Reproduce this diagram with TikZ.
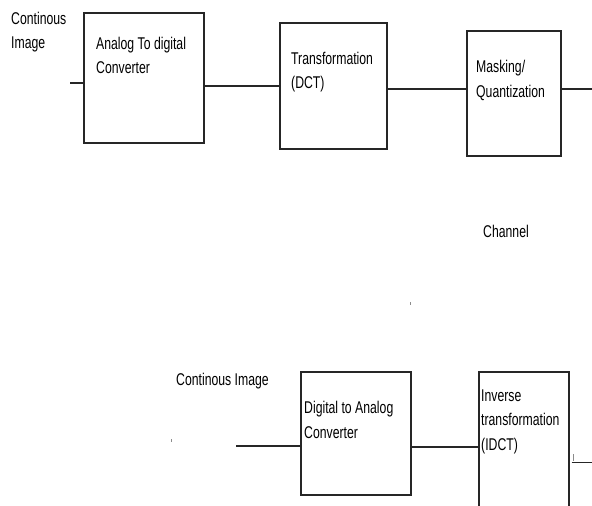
\documentclass[tikz,border=0pt]{standalone}
\usepackage{fontspec}
\setmainfont{Liberation Sans}[FakeStretch=0.72]
\usetikzlibrary{positioning,calc}
\tikzset{
  block/.style={rectangle, draw=black!85, line width=1.2pt, inner sep=0pt},
  lbl/.style={anchor=base west, align=left, inner sep=0pt,
              font=\fontsize{17}{24.5}\selectfont, text=black},
  wire/.style={draw=black!85, line width=1.4pt},
  speck/.style={rectangle, fill=black!45, inner sep=0pt, minimum width=1pt, minimum height=3pt}
}
\begin{document}
\begin{tikzpicture}[x=1pt,y=-1pt]
\path[use as bounding box] (0,0) rectangle (592,506);
\clip (0,0) rectangle (592,506);
% coder
\node[block,minimum width=120pt,minimum height=130pt] (adc) at (144,78) {};
\node[block,minimum width=107pt,minimum height=126pt] (dct) at (333.5,86) {};
\node[block,minimum width=94pt,minimum height=125pt] (mask) at (514,93.5) {};
\node[lbl] (cont1) at (11,48.5) {Continous\\Image};
\node[lbl] (adcl) at (96,73.5) {Analog To digital\\Converter};
\node[lbl] (dctl) at (291,88.5) {Transformation\\(DCT)};
\node[lbl] (maskl) at (476,97) {Masking/\\Quantization};
\coordinate (in1) at (70,83);
\coordinate (out1) at (592,89);
\draw[wire] (in1) -- (in1 -| adc.west);
\draw[wire] (adc.east |- dct.west) -- (dct.west);
\draw[wire] ([yshift=-3pt]dct.east) -- ([yshift=-3pt]dct.east -| mask.west);
\draw[wire] (out1 -| mask.east) -- (out1);
% channel
\node[lbl] (chan) at (483,237.7) {Channel};
\node[speck] (sp1) at (410,303) {};
% decoder
\node[block,minimum width=110pt,minimum height=123pt] (dac) at (356,433.5) {};
\node[block,minimum width=90pt,minimum height=140pt] (idct) at (524,442) {};
\node[lbl] (cont2) at (176,385) {Continous Image};
\node[lbl] (dacl) at (304,438) {Digital to Analog\\Converter};
\node[lbl] (idctl) at (481,450) {Inverse\\transformation\\(IDCT)};
\node[speck] (sp2) at (171,440.5) {};
\node[speck,minimum height=6.5pt] (sp3) at (573.7,457.3) {};
\coordinate (in2) at (236,446);
\coordinate (out2) at (592,462.7);
\draw[wire] (in2) -- (in2 -| dac.west);
\draw[wire] ([yshift=-13.5pt]dac.east) -- ([yshift=-13.5pt]dac.east -| idct.west);
\draw[wire] ([xshift=2pt]idct.east |- out2) -- (out2);
\end{tikzpicture}
\end{document}
